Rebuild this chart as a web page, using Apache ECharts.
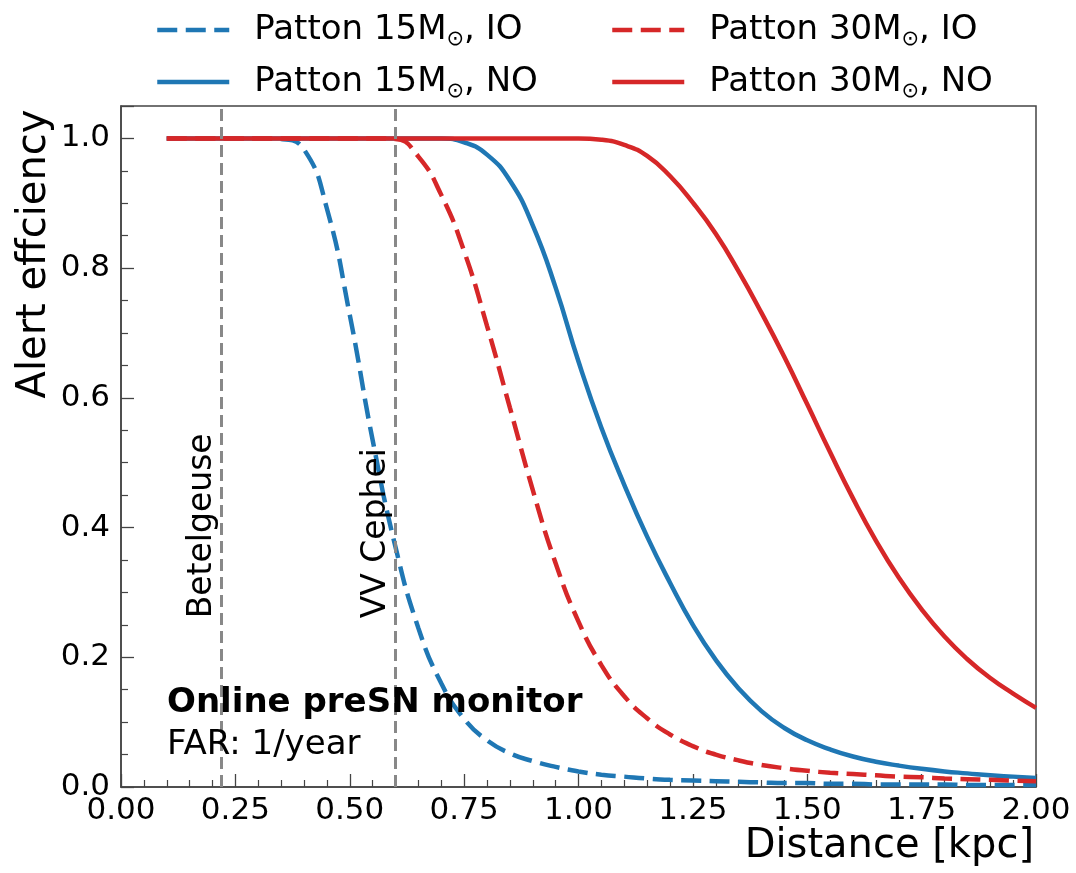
<!DOCTYPE html>
<html>
<head>
<meta charset="utf-8">
<script src="https://cdn.jsdelivr.net/npm/echarts@6/dist/echarts.min.js"></script>
<style>html,body{margin:0;padding:0;background:#fff}#c{width:1076px;height:873px}</style>
</head>
<body>
<div id="c"></div>
<script>
// distance grid [kpc]
const distance = [0.10,0.15,0.20,0.25,0.30,0.35,0.40,0.45,0.50,0.55,0.60,0.65,0.70,0.75,0.80,0.85,0.90,0.95,1.00,1.05,1.10,1.15,1.20,1.25,1.30,1.35,1.40,1.45,1.50,1.55,1.60,1.65,1.70,1.75,1.80,1.85,1.90,1.95,2.00];
// Patton 15 Msun, IO (dashed blue)
const m15IO = [1.000,1.000,1.000,1.000,1.000,0.999,0.983,0.892,0.728,0.535,0.370,0.245,0.160,0.105,0.072,0.052,0.040,0.031,0.024,0.019,0.016,0.013,0.011,0.010,0.009,0.008,0.007,0.006,0.006,0.005,0.005,0.004,0.004,0.004,0.004,0.003,0.003,0.003,0.003];
// Patton 15 Msun, NO (solid blue)
const m15NO = [1.000,1.000,1.000,1.000,1.000,1.000,1.000,1.000,1.000,1.000,1.000,1.000,1.000,0.994,0.975,0.935,0.866,0.770,0.656,0.554,0.466,0.386,0.315,0.250,0.196,0.152,0.117,0.091,0.072,0.058,0.047,0.039,0.033,0.028,0.024,0.021,0.018,0.016,0.014];
// Patton 30 Msun, IO (dashed red)
const m30IO = [1.000,1.000,1.000,1.000,1.000,1.000,1.000,1.000,1.000,1.000,0.999,0.972,0.913,0.826,0.711,0.585,0.458,0.345,0.255,0.188,0.140,0.106,0.081,0.063,0.050,0.041,0.034,0.029,0.025,0.022,0.020,0.018,0.016,0.015,0.013,0.012,0.011,0.010,0.009];
// Patton 30 Msun, NO (solid red)
const m30NO = [1.000,1.000,1.000,1.000,1.000,1.000,1.000,1.000,1.000,1.000,1.000,1.000,1.000,1.000,1.000,1.000,1.000,1.000,1.000,0.998,0.990,0.973,0.942,0.901,0.853,0.795,0.731,0.663,0.590,0.516,0.445,0.380,0.323,0.274,0.232,0.197,0.168,0.144,0.122];
// reference stars
const starNames = ['Betelgeuse','VV Cephei'];
const starDistance = [0.22, 0.60];
// tick values
const yTickValues = [0.0,0.2,0.4,0.6,0.8,1.0];
const xTickValues = [0.00,0.25,0.50,0.75,1.00,1.25,1.50,1.75,2.00];

const seriesNames = ['Patton 15M⊙, IO','Patton 15M⊙, NO','Patton 30M⊙, IO','Patton 30M⊙, NO'];
const BLUE = '#1f77b4', RED = '#d62728';
const FONT = 'DejaVu Sans';
const DASH = [20,8.5];
const pairs = arr => distance.map((d,i)=>[d,arr[i]]);

const chart = echarts.init(document.getElementById('c'), null, {renderer:'canvas'});

function legendFor(name, left, top, color, dashed){
  return {
    data:[name], left:left, top:top, padding:0, itemWidth:72, itemHeight:16,
    selectedMode:false,
    itemStyle:{opacity:0, color:color},
    lineStyle:{color:color, width:4.5, type: dashed ? DASH : 'solid', cap:'butt'},
    formatter: n => { const p = n.split('⊙'); return '{a|'+p[0]+'}{s|⊙}{a|'+p[1]+'}'; },
    textStyle:{ fontFamily:FONT, color:'#000', padding:[0,0,0,20],
      rich:{ a:{fontFamily:FONT, fontSize:34, lineHeight:40, color:'#000'},
             s:{fontFamily:FONT, fontSize:21, lineHeight:22, verticalAlign:'bottom', color:'#000'} } }
  };
}

const lineSeries = (name, arr, color, dashed, z) => ({
  name, type:'line', data:pairs(arr), showSymbol:false, symbol:'none',
  smooth:0.5, z,
  lineStyle:{color, width:4.5, type: dashed ? DASH : 'solid', cap:'butt'},
  itemStyle:{color}
});

const tickFmt = (vals, digits) => v => vals.some(t=>Math.abs(t-v)<1e-6) ? v.toFixed(digits) : '';

const option = {
  animation:false,
  backgroundColor:'#fff',
  grid:{left:121, right:40, top:106, bottom:86, show:true, borderColor:'#444', borderWidth:1.5, backgroundColor:'transparent'},
  legend:[
    legendFor(seriesNames[0], 155, 13, BLUE, true),
    legendFor(seriesNames[1], 155, 65, BLUE, false),
    legendFor(seriesNames[2], 610, 13, RED, true),
    legendFor(seriesNames[3], 610, 65, RED, false)
  ],
  xAxis:{
    type:'value', min:0, max:2, interval:0.25,
    name:'Distance [kpc]', nameLocation:'end', nameGap:-2,
    nameTextStyle:{fontFamily:FONT, fontSize:40, color:'#000', align:'right', verticalAlign:'top', padding:[40,0,0,0]},
    axisLine:{show:true, onZero:false, lineStyle:{color:'#444', width:1.5}},
    axisTick:{show:true, inside:true, length:13, lineStyle:{color:'#444', width:1.3}},
    minorTick:{show:true, splitNumber:5, length:7, lineStyle:{color:'#444', width:1.2}},
    splitLine:{show:false},
    axisLabel:{fontFamily:FONT, fontSize:31, color:'#000', margin:8, formatter:tickFmt(xTickValues,2)}
  },
  yAxis:{
    type:'value', min:0, max:1.05, interval:0.2,
    axisLine:{show:true, onZero:false, lineStyle:{color:'#444', width:1.5}},
    axisTick:{show:true, inside:true, length:13, lineStyle:{color:'#444', width:1.3}},
    minorTick:{show:true, splitNumber:4, length:7, lineStyle:{color:'#444', width:1.2}},
    splitLine:{show:false},
    axisLabel:{fontFamily:FONT, fontSize:31, color:'#000', margin:11, formatter:tickFmt(yTickValues,1)}
  },
  series:[
    lineSeries(seriesNames[0], m15IO, BLUE, true, 2),
    lineSeries(seriesNames[1], m15NO, BLUE, false, 3),
    lineSeries(seriesNames[2], m30IO, RED, true, 4),
    Object.assign(lineSeries(seriesNames[3], m30NO, RED, false, 5), {
      markLine:{
        silent:true, symbol:['none','none'], z:10,
        label:{show:false},
        lineStyle:{color:'#888', width:3, type:[12,6]},
        data: starDistance.map(d=>({xAxis:d}))
      }
    })
  ],
  graphic:[
    {type:'text', x:35, y:254, rotation:Math.PI/2, z:20,
     style:{text:'Alert effciency', fontFamily:FONT, fontSize:40, fill:'#000', align:'center', verticalAlign:'middle'}},
    {type:'text', x:167, y:703, z:20,
     style:{text:'Online preSN monitor', fontFamily:FONT, fontWeight:'bold', fontSize:34, fill:'#000', align:'left', verticalAlign:'middle'}},
    {type:'text', x:167, y:745, z:20,
     style:{text:'FAR: 1/year', fontFamily:FONT, fontSize:34, fill:'#000', align:'left', verticalAlign:'middle'}}
  ]
};
chart.setOption(option);

// star labels anchored through the axes' scales
const starLabelBottom = 0.26;
const extra = starNames.map((nm,i)=>{
  const p = chart.convertToPixel({gridIndex:0}, [starDistance[i], starLabelBottom]);
  return {type:'text', x:p[0]-3, y:p[1], rotation:Math.PI/2, z:20,
    style:{text:nm, fontFamily:FONT, fontSize:33, fill:'#000', align:'left', verticalAlign:'bottom'}};
});
chart.setOption({graphic: option.graphic.concat(extra)});
</script>
</body>
</html>
